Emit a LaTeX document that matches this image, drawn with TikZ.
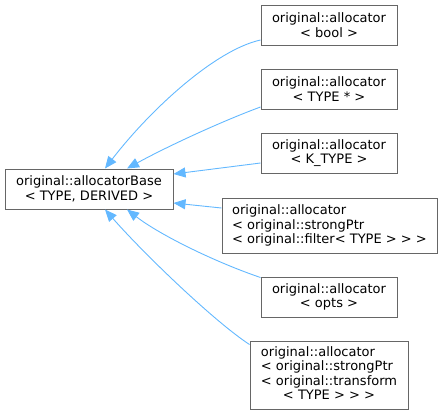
\documentclass[tikz,border=0pt]{standalone}
\usepackage{fontspec}
\setmainfont{DejaVu Sans}
\usetikzlibrary{arrows.meta}
\definecolor{edgeblue}{HTML}{63B8FF}
\definecolor{boxgray}{HTML}{666666}
\begin{document}
\begin{tikzpicture}[x=1pt,y=-1pt,
  cls/.style={draw=boxgray,line width=1pt,fill=white,inner sep=0pt,
    font=\fontsize{13}{14.5}\selectfont,text=black},
  inh/.style={draw=edgeblue,line width=0.9pt,
    {Triangle[length=12pt,width=10pt,fill=edgeblue]}-}]
\useasboundingbox (0,0) rectangle (443,416);
\node[cls,minimum width=168pt,minimum height=40pt,align=center] (base) at (89,189)
  {original::allocatorBase\\< TYPE, DERIVED >};
\node[cls,minimum width=136pt,minimum height=40pt,align=center] (b1) at (329,25)
  {original::allocator\\< bool >};
\node[cls,minimum width=136pt,minimum height=40pt,align=center] (b2) at (329,89)
  {original::allocator\\< TYPE * >};
\node[cls,minimum width=136pt,minimum height=40pt,align=center] (b3) at (329,153)
  {original::allocator\\< K\_TYPE >};
\node[cls,minimum width=215pt,minimum height=55pt,align=left] (b4) at (329.5,225.5)
  {original::allocator\\< original::strongPtr\\< original::filter< TYPE > > >};
\node[cls,minimum width=136pt,minimum height=40pt,align=center] (b5) at (329,297)
  {original::allocator\\< opts >};
\node[cls,minimum width=158pt,minimum height=68pt] (b6) at (329,375)
  {\begin{tabular}{@{}l@{}}original::allocator\\< original::strongPtr\\< original::transform\\\multicolumn{1}{@{}c@{}}{< TYPE > > >}\end{tabular}};
\draw[inh] ([xshift=16pt]base.north) .. controls (150,110) and (215,50) .. ([yshift=-15pt]b1.west);
\draw[inh] ([xshift=38pt]base.north) .. controls (170,145) and (225,120) .. ([yshift=-18pt]b2.west);
\draw[inh] ([yshift=15pt]base.east) -- ([yshift=-10pt]b3.west);
\draw[inh] ([yshift=-14pt]base.east) -- ([yshift=17.5pt]b4.west);
\draw[inh] ([xshift=38pt]base.south) .. controls (160,235) and (215,262) .. ([yshift=-1pt]b5.north west);
\draw[inh] ([xshift=16pt]base.south) .. controls (145,255) and (215,322) .. ([yshift=-4pt]b6.north west);
\end{tikzpicture}
\end{document}
